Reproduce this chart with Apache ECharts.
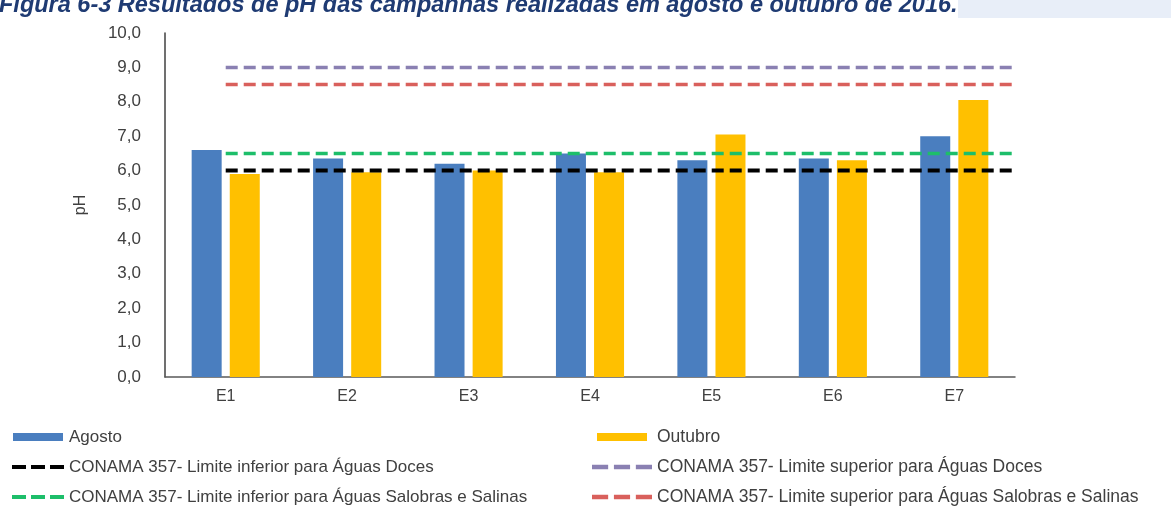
<!DOCTYPE html>
<html>
<head>
<meta charset="utf-8">
<script src="https://cdn.jsdelivr.net/npm/echarts@6/dist/echarts.min.js"></script>
<style>
  html, body { margin: 0; padding: 0; background: #fff; }
  #chart { width: 1171px; height: 511px; }
</style>
</head>
<body>
<div id="chart"></div>
<script>
// dados
const estacoes = ["E1", "E2", "E3", "E4", "E5", "E6", "E7"];
const agosto = [6.6, 6.35, 6.2, 6.5, 6.3, 6.35, 7.0];
const outubro = [5.9, 5.95, 6.0, 5.95, 7.05, 6.3, 8.05];
// linhas de referência CONAMA (início e fim no eixo x secundário)
const limiteX = [0.5, 7];
const limInfDoces = [6.0, 6.0];
const limSupDoces = [9.0, 9.0];
const limInfSalobras = [6.5, 6.5];
const limSupSalobras = [8.5, 8.5];
const yTicks = [0, 10, 1]; // min, max, intervalo

const nomes = {
  infDoces: "CONAMA 357- Limite inferior para Águas Doces",
  supDoces: "CONAMA 357- Limite superior para Águas Doces",
  infSal: "CONAMA 357- Limite inferior para Águas Salobras e Salinas",
  supSal: "CONAMA 357- Limite superior para Águas Salobras e Salinas",
};

const fonte = "'Liberation Sans', Arial, sans-serif";
const iconeBarra = "path://M0,0h50v8h-50z";
const iconeTraco = "path://M0,0h14v4h-14z M19,0h14v4h-14z M38,0h14v4h-14z";

function linha(nome, valores, cor, largura) {
  return {
    name: nome,
    type: "line",
    xAxisIndex: 1,
    data: limiteX.map((x, i) => [x, valores[i]]),
    symbol: "none",
    z: 3,
    lineStyle: { color: cor, width: largura, type: [12, 6] },
    itemStyle: { color: cor },
  };
}

const legendaBase = {
  orient: "vertical",
  top: 428,
  height: 82,
  padding: 0,
  itemGap: 12,
  itemWidth: 52,
  itemHeight: 8,
  textStyle: { fontSize: 17, lineHeight: 18, color: "#404040" },
};

const chart = echarts.init(document.getElementById("chart"));
chart.setOption({
  animation: false,
  textStyle: { fontFamily: fonte },
  title: {
    text: "Figura 6-3 Resultados de pH das campanhas realizadas em agosto e outubro de 2016.",
    left: -6,
    top: -11,
    textStyle: {
      fontFamily: fonte,
      fontSize: 23.5,
      fontWeight: "bold",
      fontStyle: "italic",
      color: "#1f3b73",
    },
  },
  graphic: [
    {
      type: "rect",
      left: 958,
      top: 0,
      z: -1,
      shape: { width: 213, height: 18 },
      style: { fill: "#e8eef8" },
    },
  ],
  grid: { left: 165, top: 33, width: 850, height: 344 },
  legend: [
    Object.assign({}, legendaBase, {
      left: 12,
      data: [
        { name: "Agosto", icon: iconeBarra },
        { name: nomes.infDoces, icon: iconeTraco },
        { name: nomes.infSal, icon: iconeTraco },
      ],
    }),
    Object.assign({}, legendaBase, {
      left: 592,
      itemWidth: 60,
      textStyle: { fontSize: 17.5, lineHeight: 18, color: "#404040" },
      data: [
        { name: "Outubro", icon: iconeBarra },
        { name: nomes.supDoces, icon: iconeTraco },
        { name: nomes.supSal, icon: iconeTraco },
      ],
    }),
  ],
  xAxis: [
    {
      type: "category",
      data: estacoes,
      axisLine: { lineStyle: { color: "#595959", width: 1.5 } },
      axisTick: { show: false },
      axisLabel: { color: "#404040", fontSize: 16, margin: 12 },
    },
    {
      type: "value",
      min: 0,
      max: estacoes.length,
      show: false,
    },
  ],
  yAxis: {
    type: "value",
    min: yTicks[0],
    max: yTicks[1],
    interval: yTicks[2],
    name: "pH",
    nameLocation: "middle",
    nameGap: 76,
    nameTextStyle: { color: "#404040", fontSize: 16 },
    axisLine: { show: true, lineStyle: { color: "#404040", width: 1.5 } },
    axisTick: { show: false },
    splitLine: { show: false },
    axisLabel: {
      color: "#404040",
      fontSize: 17,
      margin: 24,
      formatter: (v) => v.toFixed(1).replace(".", ","),
    },
  },
  series: [
    {
      name: "Agosto",
      type: "bar",
      data: agosto,
      barWidth: 30,
      barGap: "27%",
      itemStyle: { color: "#4a7ebf" },
    },
    {
      name: "Outubro",
      type: "bar",
      data: outubro,
      barWidth: 30,
      itemStyle: { color: "#ffc000" },
    },
    linha(nomes.infDoces, limInfDoces, "#000000", 4),
    linha(nomes.supDoces, limSupDoces, "#8a80b2", 3.5),
    linha(nomes.infSal, limInfSalobras, "#1dbe6a", 3.5),
    linha(nomes.supSal, limSupSalobras, "#d9605c", 3.5),
  ],
});
</script>
</body>
</html>
